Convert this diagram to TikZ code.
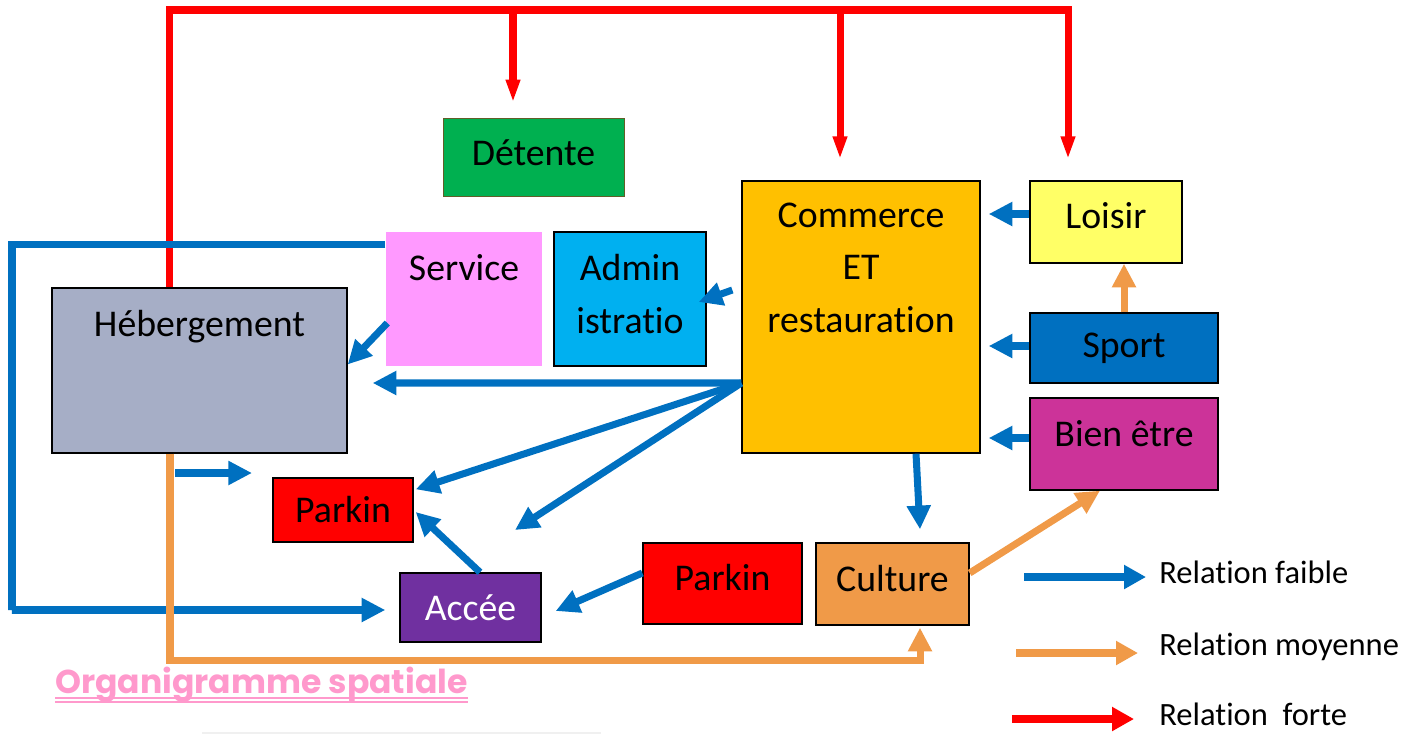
\documentclass[tikz,border=0pt]{standalone}
\usepackage{fontspec}
\setmainfont{Carlito}[Ligatures=NoCommon]
\newfontfamily\titlefont{Poppins}
\usetikzlibrary{arrows.meta,calc,positioning}

\definecolor{bleu}{HTML}{0070C0}
\definecolor{rouge}{HTML}{FF0000}
\definecolor{orangec}{HTML}{F09A48}
\definecolor{cheb}{HTML}{A6AEC6}
\definecolor{cservice}{HTML}{FF99FF}
\definecolor{cadmin}{HTML}{00B0F0}
\definecolor{cdetente}{HTML}{00B050}
\definecolor{ccomm}{HTML}{FFC000}
\definecolor{cloisir}{HTML}{FFFF66}
\definecolor{cbien}{HTML}{CC3399}
\definecolor{caccee}{HTML}{7030A0}
\definecolor{rosetitre}{HTML}{FF99CC}

\newcommand{\boxfont}{\fontsize{21.5}{30}\selectfont}
\newcommand{\legfont}{\fontsize{18.5}{22}\selectfont}

\begin{document}
\begin{tikzpicture}[x=0.02cm, y=-0.02cm,
  box/.style={draw, line width=0.8pt, inner sep=0pt, font=\boxfont, align=center},
  boxtext/.style={font=\boxfont, align=center, inner sep=0pt, anchor=north},
  midtext/.style={font=\boxfont, align=center, inner sep=0pt, anchor=center},
  faible/.style={draw=bleu, line width=4pt, -{Triangle[length=13.5pt,width=13pt]}},
  moyenne/.style={draw=orangec, line width=4pt, -{Triangle[length=13.5pt,width=13pt]}},
  forte/.style={draw=rouge, line width=4pt, line join=miter, -{Triangle[length=13pt,width=7.5pt]}},
  legarrow/.style={line width=4.5pt, -{Triangle[length=12.5pt,width=13pt]}},
  legtext/.style={font=\legfont, inner sep=0pt, anchor=base west}]
\useasboundingbox (0,0) rectangle (1405,734);

% boites
\node[box, fill=cdetente, draw=olive!60!black, line width=0.5pt, minimum width=3.62cm, minimum height=1.56cm,
  label={[midtext, yshift=2.3pt]center:Détente}] (detente) at (533.5,157) {};
\node[box, fill=ccomm, minimum width=4.76cm, minimum height=5.44cm,
  label={[boxtext, yshift=-12.5pt]north:Commerce\\ET\\restauration}] (comm) at (861,317) {};
\node[box, fill=cloisir, minimum width=3.04cm, minimum height=1.64cm,
  label={[midtext, yshift=3.4pt]center:Loisir}] (loisir) at (1106,222) {};
\node[box, fill=bleu, minimum width=3.76cm, minimum height=1.4cm] (sport) at (1124,348) {Sport};
\node[box, fill=cbien, minimum width=3.76cm, minimum height=1.84cm,
  label={[boxtext, yshift=-13pt]north:Bien être}] (bien) at (1124,444) {};
\node[box, draw=none, fill=cservice, minimum width=3.12cm, minimum height=2.68cm,
  label={[boxtext, yshift=-13pt]north:Service}] (serv) at (464,299) {};
\node[box, fill=cadmin, minimum width=3.04cm, minimum height=2.68cm,
  label={[midtext, yshift=2.8pt]center:Admin\\istratio}] (admin) at (630,299) {};
\node[box, fill=cheb, minimum width=5.9cm, minimum height=3.3cm,
  label={[boxtext, yshift=-13pt]north:Hébergement}] (heb) at (199.5,370.5) {};
\node[box, fill=rouge, minimum width=2.8cm, minimum height=1.28cm] (park1) at (343,510) {Parkin};
\node[box, fill=caccee, text=white, minimum width=2.82cm, minimum height=1.38cm] (acc) at (470.5,607.5) {Accée};
\node[box, fill=rouge, minimum width=3.18cm, minimum height=1.62cm,
  label={[midtext, yshift=3.4pt]center:Parkin}] (park2) at (722.5,583.5) {};
\node[box, fill=orangec, minimum width=3.06cm, minimum height=1.64cm,
  label={[midtext, yshift=3.4pt]center:Culture}] (cult) at (892.5,584) {};

% relations fortes
\coordinate (r1) at (513,10);
\coordinate (r2) at (840,10);
\coordinate (rd) at (1068,10);
\draw[forte] ($(heb.north west)+(118,0)$) |- (rd) -- ($(loisir.north)+(-38,-21)$);
\draw[forte] (r1) -- ($(detente.north)+(-20.5,-15)$);
\draw[forte] (r2) -- ($(comm.north)+(-21,-21)$);

% relations faibles
\coordinate (gauche) at (12,610);
\draw[faible, line join=miter] ($(serv.north west)+(0,13)$) -| (gauche) |- ($(acc.west)+(-14,2.5)$);
\draw[faible] ($(serv.west)+(2,24)$) -- ($(heb.east)+(0,-6)$);
\draw[faible] ($(comm.west)+(-9,-27)$) -- ($(admin.east)+(-8,3)$);
\coordinate (cw) at ($(comm.west)+(0,66)$);
\coordinate (libre) at (515,530);
\draw[faible] (cw) -- ($(heb.east)+(25,12.5)$);
\draw[faible] (cw) -- ($(park1.north east)+(2,12)$);
\draw[faible] (cw) -- (libre);
\draw[faible] ($(comm.south)+(55,0)$) -- ($(cult.north)+(27.5,-13)$);
\draw[faible] ($(loisir.west)+(0,-8)$) -- ($(comm.east |- loisir.west)+(8,-8)$);
\draw[faible] ($(sport.west)+(0,-2)$) -- ($(comm.east |- sport.west)+(8,-2)$);
\draw[faible] ($(bien.west)+(0,-6)$) -- ($(comm.east |- bien.west)+(8,-6)$);
\coordinate (hb1) at (175,473);
\coordinate (hb2) at (252,473);
\draw[faible] (hb1) -- (hb2);
\draw[faible] ($(acc.north)+(9.5,0)$) -- ($(park1.east)+(2,2)$);
\draw[faible] ($(park2.west)+(0,-10.5)$) -- ($(acc.east)+(14,3.5)$);

% relations moyennes
\draw[moyenne, line join=miter] ($(heb.south)+(-29.5,0)$) |- ($(cult.south)+(27.5,35)$) -- ($(cult.south)+(27.5,2)$);
\draw[moyenne] (sport.north) -- (sport.north |- loisir.south);
\draw[moyenne] ($(cult.east)+(0,-11)$) -- ($(bien.south)+(-24,0)$);

% legende
\node[legtext] (lfaible) at (1159,583) {Relation faible};
\node[legtext] (lmoy) at (1159,655) {Relation moyenne};
\node[legtext] (lforte) at (1159,725) {Relation~~forte};
\coordinate (lf1) at (1024,577);
\coordinate (lf2) at (1146,577);
\coordinate (lm1) at (1016,653);
\coordinate (lm2) at (1138,653);
\coordinate (lr1) at (1012,719);
\coordinate (lr2) at (1134,719);
\draw[legarrow, bleu] (lf1) -- (lf2);
\draw[legarrow, orangec] (lm1) -- (lm2);
\draw[legarrow, rouge] (lr1) -- (lr2);

% titre
\node[font=\titlefont\bfseries\fontsize{18.8}{21}\selectfont, text=rosetitre, inner sep=0pt, anchor=base west] (titre) at (55,693) {Organigramme spatiale};
\draw[rosetitre, line width=1.2pt] ($(titre.base west)+(0,5)$) -- ($(titre.base east)+(0,5)$);
\draw[rosetitre, line width=1.2pt] ($(titre.base west)+(0,9)$) -- ($(titre.base east)+(0,9)$);
\draw[gray!12, line width=0.6pt] (202,733) -- (601,733);
\end{tikzpicture}
\end{document}
